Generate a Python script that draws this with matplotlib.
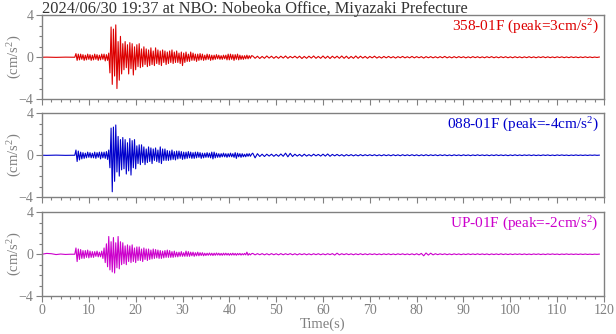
import numpy as np
import matplotlib
matplotlib.use('Agg')
import matplotlib.pyplot as plt
from matplotlib.ticker import MultipleLocator

plt.rcParams['font.family'] = ['Liberation Serif', 'DejaVu Serif']
plt.rcParams['mathtext.fontset'] = 'custom'
plt.rcParams['mathtext.rm'] = 'Liberation Serif'
plt.rcParams['mathtext.default'] = 'regular'

title = '2024/06/30 19:37 at NBO: Nobeoka Office, Miyazaki Prefecture'
channels = ['358-01F', '088-01F', 'UP-01F']
peaks = ['3', '-4', '-2']
colors = ['#dd0000', '#0000cc', '#cc00cc']

# sample grids (s): before onset 1 s, main part 0.25 s, coda 0.5 s
t_pre = [0, 1, 2, 3, 4, 5, 6]
t_main_start, t_main_step = 7.0, 0.25
t_tail_start, t_tail_step = 45.0, 0.5

# acceleration (cm/s2)
ns_pre = [0.0, 0.01, 0.0, -0.01, 0.0, 0.01, 0.0]
ns_main = [
    0.0, 0.35, -0.3, 0.3, -0.25, 0.3, -0.2, 0.25,
    -0.3, 0.2, -0.25, 0.3, -0.2, 0.25, -0.3, 0.2,
    -0.25, 0.3, -0.2, 0.25, -0.3, 0.2, -0.25, 0.3,
    -0.2, 0.3, -0.35, 0.25, -0.3, 0.4, -1.5, 2.9,
    -2.6, 2.7, -1.8, 3.1, -3.0, 1.5, -2.2, 2.0,
    -1.6, 1.3, -1.2, 1.5, -1.0, 1.2, -1.6, 1.4,
    -1.1, 1.3, -1.7, 1.0, -1.2, 1.2, -0.9, 1.3,
    -1.0, 0.8, -0.9, 1.0, -0.7, 0.8, -0.9, 0.7,
    -0.8, 0.9, -0.7, 0.6, -0.8, 0.9, -0.6, 0.7,
    -0.7, 0.6, -0.8, 0.7, -0.5, 0.6, -0.7, 0.5,
    -0.6, 0.6, -0.5, 0.7, -0.6, 0.5, -0.5, 0.6,
    -0.5, 0.4, -0.6, 0.5, -0.8, 0.4, -0.5, 0.5,
    -0.4, 0.3, -0.4, 0.5, -0.3, 0.4, -0.3, 0.3,
    -0.4, 0.3, -0.3, 0.35, -0.25, 0.3, -0.3, 0.2,
    -0.25, 0.3, -0.2, 0.25, -0.3, 0.2, -0.25, 0.2,
    -0.2, 0.25, -0.15, 0.2, -0.2, 0.15, -0.2, 0.2,
    -0.15, 0.2, -0.25, 0.3, -0.25, 0.3, -0.2, 0.25,
    -0.3, 0.25, -0.2, 0.3, -0.25, 0.2, -0.2, 0.15,
    -0.2, 0.15, -0.15, 0.2, -0.15, 0.15, -0.1, 0.15,
]
ns_tail = [
    0.12, -0.1, 0.1, -0.12, 0.08, -0.1, 0.12, -0.08, 0.1, -0.1,
    0.08, -0.1, 0.1, -0.08, 0.12, -0.1, 0.08, -0.06, 0.1, -0.08,
    0.1, -0.12, 0.08, -0.1, 0.1, -0.08, 0.12, -0.1, 0.08, -0.1,
    0.12, -0.1, 0.1, -0.12, 0.1, -0.08, 0.1, -0.1, 0.12, -0.1,
    0.1, -0.12, 0.08, -0.1, 0.12, -0.1, 0.1, -0.08, 0.08, -0.1,
    0.08, -0.06, 0.1, -0.08, 0.06, -0.08, 0.08, -0.06, 0.08, -0.06,
    0.06, -0.08, 0.06, -0.05, 0.08, -0.06, 0.05, -0.06, 0.08, -0.06,
    0.06, -0.05, 0.06, -0.08, 0.06, -0.05, 0.06, -0.06, 0.05, -0.06,
    0.06, -0.05, 0.08, -0.06, 0.05, -0.06, 0.06, -0.05, 0.06, -0.04,
    0.05, -0.06, 0.04, -0.05, 0.06, -0.04, 0.05, -0.05, 0.04, -0.05,
    0.05, -0.04, 0.06, -0.05, 0.04, -0.05, 0.05, -0.04, 0.05, -0.05,
    0.04, -0.05, 0.05, -0.04, 0.04, -0.05, 0.04, -0.04, 0.05, -0.04,
    0.04, -0.05, 0.04, -0.03, 0.05, -0.04, 0.04, -0.04, 0.03, -0.04,
    0.04, -0.03, 0.04, -0.04, 0.03, -0.04, 0.04, -0.03, 0.03, -0.04,
    0.03, -0.03, 0.04, -0.03, 0.03, -0.03, 0.02, -0.02, 0.02,
]

ew_pre = [0.0, -0.01, 0.0, 0.01, 0.0, -0.01, 0.0]
ew_main = [
    0.0, 0.5, -0.6, 0.4, -0.45, 0.3, -0.35, 0.25,
    -0.3, 0.2, -0.25, 0.3, -0.2, 0.25, -0.25, 0.2,
    -0.25, 0.3, -0.3, 0.25, -0.2, 0.3, -0.35, 0.3,
    -0.25, 0.3, -0.3, 0.35, -0.4, 0.5, -1.2, 2.6,
    -3.5, 2.7, -2.5, 2.9, -1.6, 1.8, -2.0, 1.5,
    -1.4, 1.7, -1.3, 1.5, -1.8, 1.2, -1.5, 1.6,
    -1.9, 1.4, -1.2, 1.5, -1.3, 0.9, -0.8, 1.0,
    -0.9, 1.0, -0.7, 0.8, -0.9, 0.6, -0.7, 0.8,
    -0.6, 0.7, -0.8, 0.6, -0.5, 0.7, -0.6, 0.5,
    -0.7, 0.8, -0.8, 0.6, -0.5, 0.6, -0.5, 0.45,
    -0.5, 0.4, -0.45, 0.5, -0.4, 0.35, -0.45, 0.4,
    -0.35, 0.4, -0.3, 0.35, -0.4, 0.3, -0.35, 0.3,
    -0.3, 0.35, -0.25, 0.3, -0.3, 0.25, -0.3, 0.3,
    -0.25, 0.3, -0.2, 0.25, -0.3, 0.2, -0.25, 0.2,
    -0.2, 0.25, -0.2, 0.2, -0.25, 0.3, -0.35, 0.3,
    -0.25, 0.2, -0.2, 0.15, -0.2, 0.15, -0.15, 0.2,
    -0.15, 0.15, -0.2, 0.15, -0.15, 0.2, -0.15, 0.15,
    -0.2, 0.25, -0.3, 0.2, -0.15, 0.15, -0.2, 0.15,
    -0.15, 0.1, -0.15, 0.15, -0.1, 0.15, -0.1, 0.1,
]
ew_tail = [
    0.2, -0.25, 0.15, -0.12, 0.1, -0.12, 0.1, -0.08, 0.1, -0.1,
    0.08, -0.1, 0.12, -0.1, 0.2, -0.15, 0.18, -0.12, 0.1, -0.08,
    0.08, -0.1, 0.1, -0.08, 0.06, -0.08, 0.1, -0.06, 0.08, -0.08,
    0.1, -0.08, 0.12, -0.1, 0.08, -0.06, 0.08, -0.06, 0.06, -0.08,
    0.06, -0.05, 0.06, -0.06, 0.05, -0.06, 0.06, -0.05, 0.05, -0.04,
    0.05, -0.04, 0.05, -0.05, 0.04, -0.05, 0.05, -0.04, 0.04, -0.05,
    0.05, -0.04, 0.04, -0.05, 0.05, -0.04, 0.04, -0.04, 0.05, -0.04,
    0.04, -0.05, 0.04, -0.04, 0.05, -0.04, 0.04, -0.03, 0.04, -0.04,
    0.04, -0.03, 0.04, -0.04, 0.03, -0.04, 0.04, -0.03, 0.03, -0.04,
    0.04, -0.03, 0.03, -0.04, 0.03, -0.03, 0.04, -0.03, 0.03, -0.03,
    0.03, -0.04, 0.03, -0.03, 0.04, -0.03, 0.03, -0.03, 0.03, -0.04,
    0.03, -0.03, 0.04, -0.03, 0.03, -0.03, 0.03, -0.02, 0.03, -0.03,
    0.03, -0.03, 0.02, -0.03, 0.03, -0.02, 0.03, -0.03, 0.02, -0.03,
    0.03, -0.02, 0.03, -0.02, 0.02, -0.03, 0.02, -0.02, 0.03, -0.02,
    0.02, -0.02, 0.02, -0.02, 0.02, -0.01, 0.02, -0.01, 0.01,
]

ud_pre = [0.0, 0.08, 0.05, -0.03, 0.02, -0.02, 0.0]
ud_main = [
    0.0, 0.6, -0.7, 0.5, -0.5, 0.45, -0.4, 0.35,
    -0.4, 0.35, -0.3, 0.4, -0.35, 0.3, -0.3, 0.25,
    -0.3, 0.25, -0.2, 0.3, -0.25, 0.2, -0.25, 0.3,
    -0.4, 0.6, -0.8, 1.0, -1.2, 1.7, -1.5, 1.2,
    -1.7, 1.6, -1.8, 1.1, -1.3, 1.7, -1.4, 1.2,
    -1.0, 1.1, -0.9, 0.8, -1.0, 0.9, -0.7, 0.8,
    -0.8, 0.9, -0.7, 0.6, -0.8, 0.7, -0.6, 0.7,
    -0.6, 0.5, -0.7, 0.6, -0.5, 0.5, -0.6, 0.5,
    -0.5, 0.4, -0.45, 0.5, -0.4, 0.45, -0.35, 0.4,
    -0.4, 0.35, -0.4, 0.3, -0.35, 0.35, -0.3, 0.4,
    -0.3, 0.35, -0.3, 0.25, -0.3, 0.3, -0.25, 0.2,
    -0.25, 0.2, -0.2, 0.25, -0.2, 0.15, -0.2, 0.3,
    -0.2, 0.25, -0.2, 0.2, -0.15, 0.2, -0.2, 0.15,
    -0.15, 0.2, -0.15, 0.15, -0.12, 0.15, -0.15, 0.1,
    -0.12, 0.1, -0.1, 0.12, -0.1, 0.1, -0.12, 0.1,
    -0.1, 0.12, -0.08, 0.1, -0.1, 0.08, -0.1, 0.1,
    -0.08, 0.1, -0.08, 0.08, -0.1, 0.08, -0.08, 0.1,
    -0.08, 0.08, -0.1, 0.08, -0.06, 0.08, -0.08, 0.06,
    -0.06, 0.08, -0.06, 0.2, -0.1, 0.06, -0.06, 0.05,
]
ud_tail = [
    0.08, -0.06, 0.06, -0.05, 0.06, -0.06, 0.05, -0.06, 0.06, -0.05,
    0.05, -0.06, 0.06, -0.05, 0.05, -0.04, 0.06, -0.05, 0.05, -0.06,
    0.05, -0.04, 0.05, -0.05, 0.04, -0.05, 0.05, -0.04, 0.05, -0.05,
    0.04, -0.05, 0.05, -0.04, 0.06, -0.08, 0.1, -0.06, 0.05, -0.04,
    0.05, -0.04, 0.04, -0.05, 0.04, -0.04, 0.05, -0.04, 0.04, -0.04,
    0.04, -0.03, 0.04, -0.04, 0.03, -0.04, 0.04, -0.03, 0.04, -0.04,
    0.03, -0.04, 0.04, -0.03, 0.04, -0.04, 0.03, -0.04, 0.04, -0.05,
    0.05, -0.06, 0.08, -0.15, 0.12, -0.08, 0.1, -0.06, 0.05, -0.04,
    0.04, -0.03, 0.04, -0.04, 0.03, -0.04, 0.04, -0.03, 0.03, -0.04,
    0.03, -0.03, 0.04, -0.03, 0.03, -0.03, 0.04, -0.03, 0.03, -0.03,
    0.03, -0.04, 0.03, -0.03, 0.03, -0.03, 0.04, -0.03, 0.03, -0.03,
    0.03, -0.03, 0.03, -0.02, 0.03, -0.03, 0.03, -0.03, 0.02, -0.03,
    0.03, -0.02, 0.03, -0.03, 0.02, -0.03, 0.03, -0.02, 0.03, -0.02,
    0.02, -0.03, 0.02, -0.02, 0.03, -0.02, 0.02, -0.02, 0.02, -0.02,
    0.02, -0.02, 0.02, -0.02, 0.01, -0.02, 0.01, -0.01, 0.01,
]

traces = [(ns_pre, ns_main, ns_tail), (ew_pre, ew_main, ew_tail), (ud_pre, ud_main, ud_tail)]

grey = '#808080'
fig = plt.figure(figsize=(6.16, 3.34), dpi=100)
bottoms = [0.7036, 0.4102, 0.1138]

for i, (pre, main, tail) in enumerate(traces):
    ax = fig.add_axes([0.0682, bottoms[i], 0.9123, 0.25])
    t = np.concatenate([
        np.array(t_pre, dtype=float),
        t_main_start + t_main_step * np.arange(len(main)),
        t_tail_start + t_tail_step * np.arange(len(tail)),
    ])
    y = np.concatenate([pre, main, tail])
    ax.plot(t, y, color=colors[i], lw=0.8)

    ax.set_xlim(0, 120)
    ax.set_ylim(-4, 4)
    ax.set_yticks([-4, 0, 4])
    ax.yaxis.set_minor_locator(MultipleLocator(1))
    ax.xaxis.set_major_locator(MultipleLocator(10))
    ax.xaxis.set_minor_locator(MultipleLocator(2))
    ax.tick_params(which='both', direction='out', color=grey, labelcolor=grey,
                   labelsize=10, width=0.8, pad=2)
    ax.tick_params(which='major', length=4)
    ax.tick_params(which='minor', length=2.5)
    for s in ax.spines.values():
        s.set_color(grey)
        s.set_linewidth(1.0)
    if i < 2:
        ax.tick_params(axis='x', labelbottom=False)
    else:
        ax.set_xlabel('Time(s)', color=grey, fontsize=10.5, labelpad=0)
    ax.set_ylabel('(cm/s$^2$)', color=grey, fontsize=10.5, va='center')
    ax.yaxis.set_label_coords(-0.048, 0.5)
    ax.text(0.99, 0.97, f'{channels[i]} (peak={peaks[i]}cm/s$^2$)', transform=ax.transAxes,
            ha='right', va='top', color=colors[i], fontsize=11)

fig.text(0.0682, 0.998, title, ha='left', va='top', color='#333333', fontsize=11.8)

fig.savefig('out.png', dpi=100)
